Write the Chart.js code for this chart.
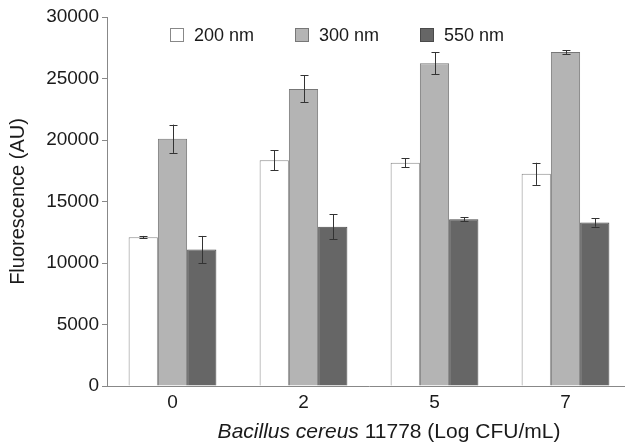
<!DOCTYPE html>
<html>
<head>
<meta charset="utf-8">
<script src="https://cdn.jsdelivr.net/npm/chart.js@4.4.0/dist/chart.umd.min.js"></script>
<style>
  html, body { margin: 0; padding: 0; background: #fff; overflow: hidden; }
  #wrap { width: 640px; height: 446px; }
</style>
</head>
<body>
<div id="wrap"><canvas id="chart" width="640" height="446"></canvas></div>
<script>
// dati
const categories = ["0", "2", "5", "7"];
const seriesNames = ["200 nm", "300 nm", "550 nm"];
const values200 = [12100, 18350, 18150, 17250];
const values300 = [20100, 24150, 26250, 27150];
const values550 = [11100, 12950, 13550, 13300];
const err200 = [100, 800, 350, 900];
const err300 = [1150, 1100, 900, 150];
const err550 = [1100, 1000, 150, 350];
const yTicks = [0, 5000, 10000, 15000, 20000, 25000, 30000];

const FONT = "'Liberation Sans', Arial, sans-serif";

// barre d'errore
const errorBars = {
    id: "errorBars",
    afterDatasetsDraw(chart) {
        const ctx = chart.ctx;
        const y = chart.scales.y;
        ctx.save();
        ctx.strokeStyle = "#333";
        ctx.lineWidth = 1;
        chart.data.datasets.forEach((ds, i) => {
            const meta = chart.getDatasetMeta(i);
            meta.data.forEach((bar, j) => {
                const v = ds.data[j];
                const e = ds.errors[j];
                const top = y.getPixelForValue(v + e);
                const bot = y.getPixelForValue(v - e);
                const x = Math.round(bar.x) + 0.5;
                ctx.beginPath();
                ctx.moveTo(x, top); ctx.lineTo(x, bot);
                ctx.moveTo(x - 4, Math.round(top) + 0.5); ctx.lineTo(x + 4, Math.round(top) + 0.5);
                ctx.moveTo(x - 4, Math.round(bot) + 0.5); ctx.lineTo(x + 4, Math.round(bot) + 0.5);
                ctx.stroke();
            });
        });
        ctx.restore();
    }
};

// legenda e titolo asse x
const extras = {
    id: "extras",
    afterDraw(chart) {
        const ctx = chart.ctx;
        ctx.save();
        // legenda
        const legendX = [170, 295, 420];
        const legendY = 35;
        ctx.font = "18px " + FONT;
        ctx.textBaseline = "middle";
        chart.data.datasets.forEach((ds, i) => {
            const x = legendX[i];
            ctx.fillStyle = ds.backgroundColor;
            ctx.strokeStyle = ds.borderColor;
            ctx.lineWidth = 1;
            ctx.fillRect(x, legendY - 7, 14, 14);
            ctx.strokeRect(x + 0.5, legendY - 6.5, 13, 13);
            ctx.fillStyle = "#1a1a1a";
            ctx.textAlign = "left";
            ctx.fillText(ds.label, x + 24, legendY + 1);
        });
        // titolo asse x con parte in corsivo
        const part1 = "Bacillus cereus";
        const part2 = " 11778 (Log CFU/mL)";
        const f1 = "italic 21px " + FONT;
        const f2 = "21px " + FONT;
        ctx.font = f1;
        const w1 = ctx.measureText(part1).width;
        ctx.font = f2;
        const w2 = ctx.measureText(part2).width;
        let sx = 389 - (w1 + w2) / 2;
        ctx.fillStyle = "#1a1a1a";
        ctx.textAlign = "left";
        ctx.font = f1;
        ctx.fillText(part1, sx, 432);
        ctx.font = f2;
        ctx.fillText(part2, sx + w1, 432);
        ctx.restore();
    }
};

const ctx = document.getElementById("chart").getContext("2d");

new Chart(ctx, {
    type: "bar",
    data: {
        labels: categories,
        datasets: [
            { label: seriesNames[0], data: values200, errors: err200, backgroundColor: "#ffffff", borderColor: "#888888", borderWidth: 1 },
            { label: seriesNames[1], data: values300, errors: err300, backgroundColor: "#b4b4b4", borderColor: "#777777", borderWidth: 1 },
            { label: seriesNames[2], data: values550, errors: err550, backgroundColor: "#666666", borderColor: "#4a4a4a", borderWidth: 1 }
        ]
    },
    options: {
        responsive: false,
        animation: false,
        devicePixelRatio: 1,
        layout: { padding: { top: 17, right: 9, bottom: 0, left: 0 } },
        datasets: { bar: { categoryPercentage: 0.67, barPercentage: 1 } },
        plugins: {
            legend: { display: false },
            tooltip: { enabled: false }
        },
        scales: {
            x: {
                grid: { display: false, drawTicks: false },
                border: { display: true, color: "#888", width: 1 },
                ticks: { color: "#1a1a1a", font: { family: FONT, size: 19 }, padding: 5 },
                afterFit: s => { s.height = 60; }
            },
            y: {
                min: 0,
                max: 30000,
                afterBuildTicks: s => { s.ticks = yTicks.map(v => ({ value: v })); },
                grid: { drawOnChartArea: false, drawTicks: true, tickLength: 5, color: "#888" },
                border: { display: true, color: "#888", width: 1 },
                ticks: { color: "#1a1a1a", font: { family: FONT, size: 19 }, padding: 3, callback: v => String(v) },
                title: {
                    display: true,
                    text: "Fluorescence (AU)",
                    color: "#1a1a1a",
                    font: { family: FONT, size: 20 },
                    padding: { top: 6, bottom: 0 }
                },
                afterFit: s => { s.width = 107; }
            }
        }
    },
    plugins: [errorBars, extras]
});
</script>
</body>
</html>
